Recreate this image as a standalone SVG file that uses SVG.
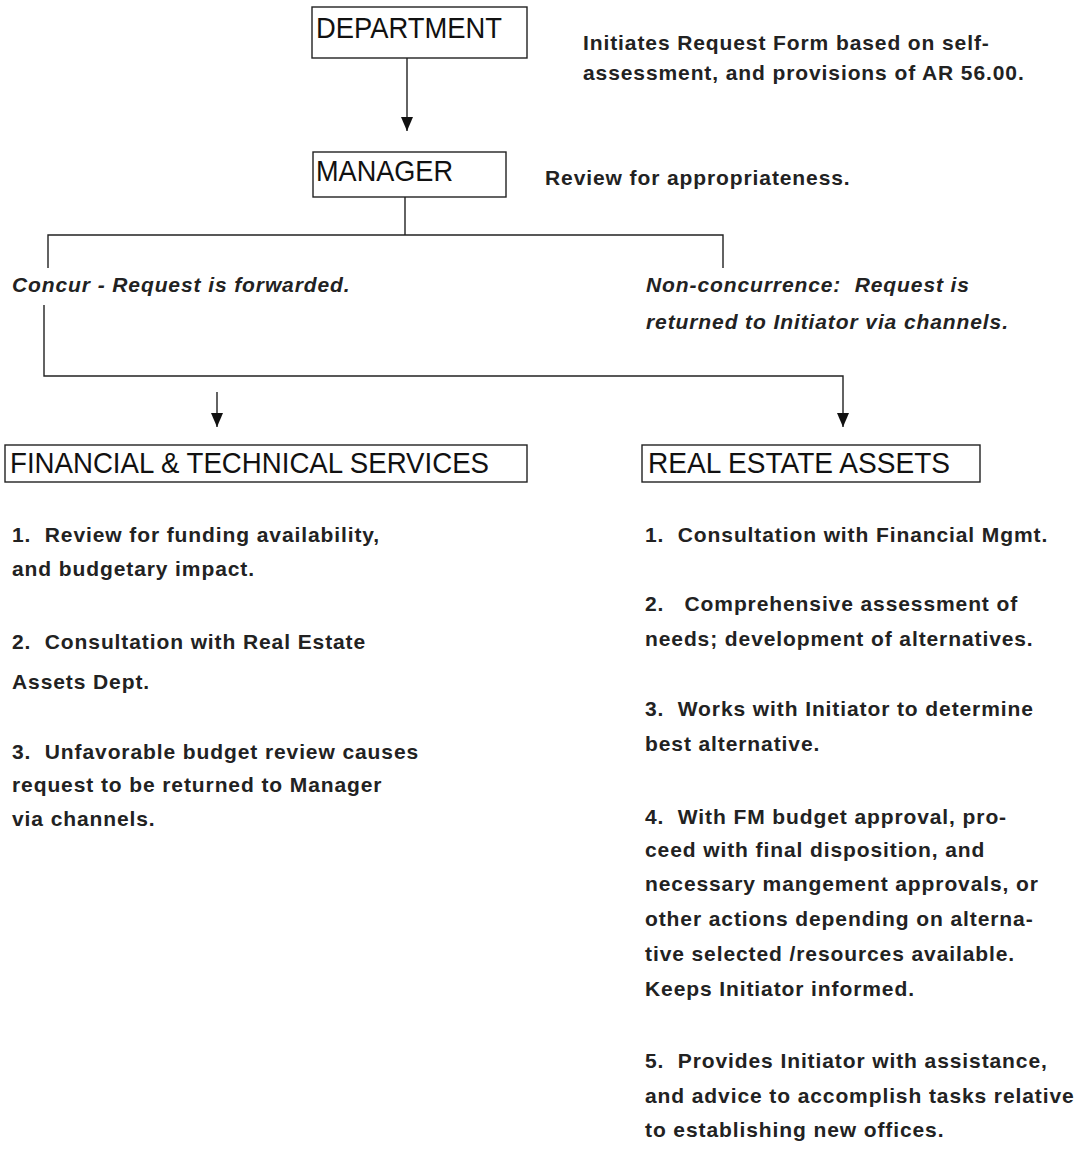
<svg xmlns="http://www.w3.org/2000/svg" width="1075" height="1156" viewBox="0 0 1075 1156">
<defs>
<marker id="arr" markerWidth="14" markerHeight="12" refX="14" refY="6" orient="auto" markerUnits="userSpaceOnUse" viewBox="0 0 14 12">
<path d="M0,0 L14,6 L0,12 Z" fill="#111"/>
</marker>
</defs>
<style>
.box{fill:#fff;stroke:#222;stroke-width:1.4}
.bt{font-family:"Liberation Sans",Arial,sans-serif;font-size:29px;fill:#111}
.t{font-family:"Liberation Sans",Arial,sans-serif;font-size:21px;font-weight:bold;letter-spacing:0.9px;fill:#222;white-space:pre}
.it{font-family:"Liberation Sans",Arial,sans-serif;font-size:21px;font-weight:bold;font-style:italic;letter-spacing:0.9px;fill:#222;white-space:pre}
.ln{fill:none;stroke:#222;stroke-width:1.4}
</style>
<rect width="1075" height="1156" fill="#fff"/>
<g id="connectors">
<line class="ln" x1="407" y1="58" x2="407" y2="131" marker-end="url(#arr)"/>
<line class="ln" x1="405" y1="197" x2="405" y2="235"/>
<polyline class="ln" points="48,268 48,235 723,235 723,268"/>
<polyline class="ln" points="44,305 44,376 843,376 843,427" marker-end="url(#arr)"/>
<line class="ln" x1="217" y1="392" x2="217" y2="427" marker-end="url(#arr)"/>
</g>
<g id="department">
<rect class="box" x="312" y="7" width="215" height="51"/>
<text class="bt" x="316" y="38" textLength="186" lengthAdjust="spacingAndGlyphs">DEPARTMENT</text>
<text class="t" x="583" y="50">Initiates Request Form based on self-</text>
<text class="t" x="583" y="80">assessment, and provisions of AR 56.00.</text>
</g>
<g id="manager">
<rect class="box" x="313" y="152" width="193" height="45"/>
<text class="bt" x="316" y="181" textLength="137" lengthAdjust="spacingAndGlyphs">MANAGER</text>
<text class="t" x="545" y="185">Review for appropriateness.</text>
</g>
<g id="concur">
<text class="it" x="12" y="292">Concur - Request is forwarded.</text>
</g>
<g id="nonconcur">
<text class="it" x="646" y="292">Non-concurrence:  Request is</text>
<text class="it" x="646" y="329">returned to Initiator via channels.</text>
</g>
<g id="fts">
<rect class="box" x="5" y="445" width="522" height="37"/>
<text class="bt" x="10" y="473" textLength="479" lengthAdjust="spacingAndGlyphs">FINANCIAL &amp; TECHNICAL SERVICES</text>
<text class="t" x="12" y="542">1.  Review for funding availability,</text>
<text class="t" x="12" y="576">and budgetary impact.</text>
<text class="t" x="12" y="649">2.  Consultation with Real Estate</text>
<text class="t" x="12" y="689">Assets Dept.</text>
<text class="t" x="12" y="759">3.  Unfavorable budget review causes</text>
<text class="t" x="12" y="792">request to be returned to Manager</text>
<text class="t" x="12" y="826">via channels.</text>
</g>
<g id="rea">
<rect class="box" x="642" y="445" width="338" height="37"/>
<text class="bt" x="648" y="473" textLength="302" lengthAdjust="spacingAndGlyphs">REAL ESTATE ASSETS</text>
<text class="t" x="645" y="542">1.  Consultation with Financial Mgmt.</text>
<text class="t" x="645" y="611">2.   Comprehensive assessment of</text>
<text class="t" x="645" y="646">needs; development of alternatives.</text>
<text class="t" x="645" y="716">3.  Works with Initiator to determine</text>
<text class="t" x="645" y="751">best alternative.</text>
<text class="t" x="645" y="824">4.  With FM budget approval, pro-</text>
<text class="t" x="645" y="857">ceed with final disposition, and</text>
<text class="t" x="645" y="891">necessary mangement approvals, or</text>
<text class="t" x="645" y="926">other actions depending on alterna-</text>
<text class="t" x="645" y="961">tive selected /resources available.</text>
<text class="t" x="645" y="996">Keeps Initiator informed.</text>
<text class="t" x="645" y="1068">5.  Provides Initiator with assistance,</text>
<text class="t" x="645" y="1103">and advice to accomplish tasks relative</text>
<text class="t" x="645" y="1137">to establishing new offices.</text>
</g>
</svg>
